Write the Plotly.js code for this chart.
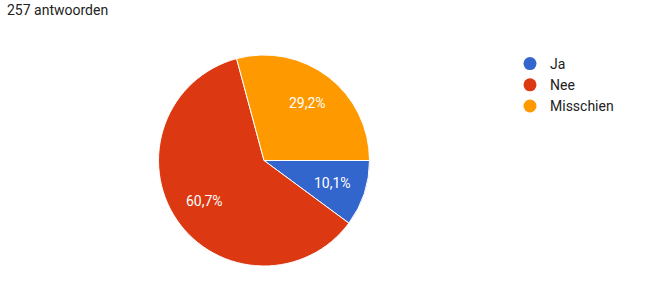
<!DOCTYPE html>
<html>
<head>
<meta charset="utf-8">
<script src="https://cdn.plot.ly/plotly-3.0.1.min.js"></script>
<style>html,body{margin:0;padding:0;background:#fff}#chart{width:647px;height:290px}</style>
</head>
<body>
<div id="chart"></div>
<script>
const categories = ["Ja", "Nee", "Misschien"];
const counts = [26, 156, 75];
const colors = ["#3366CC", "#DC3912", "#FF9900"];
const responseLabel = "257 antwoorden";

const W = 647, H = 290;
const FONT = "Roboto, Arial, sans-serif";
const pieDomain = {x: [158 / W, 370 / W], y: [1 - 266 / H, 1 - 55 / H]};
const startAngle = 90; // degrees clockwise from 12 o'clock

const pie = {
  type: "pie",
  labels: categories,
  values: counts,
  sort: false,
  direction: "clockwise",
  rotation: startAngle,
  marker: {colors: colors, line: {color: "#ffffff", width: 1}},
  textinfo: "none",
  hoverinfo: "none",
  showlegend: false,
  domain: pieDomain
};
const legendTraces = categories.map((c, i) => ({
  type: "scatter",
  mode: "markers",
  x: [null], y: [null],
  name: c,
  marker: {color: colors[i], size: 13, symbol: "circle"},
  hoverinfo: "none",
  showlegend: true
}));

// percentage labels placed along each slice's bisector
const total = counts.reduce((a, b) => a + b, 0);
const cx = (pieDomain.x[0] + pieDomain.x[1]) / 2 * W;
const cy = (1 - (pieDomain.y[0] + pieDomain.y[1]) / 2) * H;
const r = (pieDomain.x[1] - pieDomain.x[0]) * W / 2;
let acc = 0;
const pctAnnotations = counts.map((v) => {
  const mid = startAngle + (acc + v / 2) / total * 360;
  acc += v;
  const a = mid * Math.PI / 180;
  const px = cx + 0.68 * r * Math.sin(a);
  const py = cy - 0.68 * r * Math.cos(a);
  return {
    text: (v / total * 100).toFixed(1).replace(".", ",") + "%",
    xref: "paper", yref: "paper", x: px / W, y: 1 - py / H,
    xanchor: "center", yanchor: "middle", showarrow: false,
    font: {family: FONT, size: 14, color: "#ffffff"}
  };
});

const layout = {
  width: W, height: H,
  margin: {l: 0, r: 0, t: 0, b: 0},
  paper_bgcolor: "#ffffff",
  plot_bgcolor: "#ffffff",
  separators: ",.",
  font: {family: FONT, size: 14, color: "#222222"},
  xaxis: {visible: false},
  yaxis: {visible: false},
  showlegend: true,
  legend: {
    x: 510 / W, y: 1 - 48 / H, xanchor: "left", yanchor: "top",
    font: {family: FONT, size: 14, color: "#222222"},
    tracegroupgap: 0, itemclick: false
  },
  annotations: [{
    text: responseLabel, xref: "paper", yref: "paper",
    x: 5 / W, y: 1 - 0 / H, xanchor: "left", yanchor: "top", showarrow: false,
    font: {family: FONT, size: 14, color: "#222222"}
  }].concat(pctAnnotations)
};
Plotly.newPlot("chart", [pie].concat(legendTraces), layout, {staticPlot: true});
</script>
</body>
</html>
